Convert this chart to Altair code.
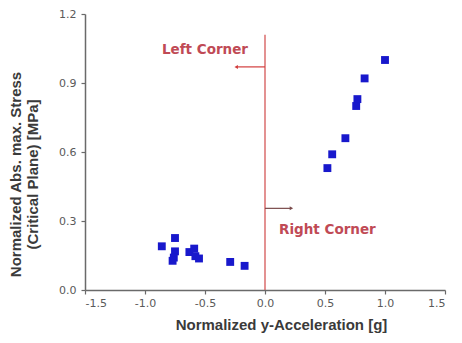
import altair as alt
import pandas as pd

# data
accel = [1.00, 0.83, 0.77, 0.76, 0.67, 0.56, 0.52,
         -0.86, -0.75, -0.75, -0.76, -0.77, -0.63, -0.59, -0.58, -0.55, -0.29, -0.17]
stress = [1.00, 0.92, 0.83, 0.80, 0.66, 0.59, 0.53,
          0.19, 0.226, 0.168, 0.141, 0.127, 0.165, 0.18, 0.147, 0.137, 0.122, 0.105]

x_ticks = [-1.5, -1.25, -1.0, -0.75, -0.5, -0.25, 0.0, 0.25, 0.5, 0.75, 1.0, 1.25, 1.5]
y_ticks = [0.0, 0.15, 0.3, 0.45, 0.6, 0.75, 0.9, 1.05, 1.2]

divider_x = [0.0]
divider_top = [1.11]
arrow_start = [0.0, 0.0]
arrow_end = [-0.24, 0.22]
arrow_y = [0.97, 0.355]
arrow_color = ["#d23c3c", "#7a4a4a"]
labels = ["Left Corner", "Right Corner"]
label_x = [-0.50, 0.52]
label_y = [1.045, 0.26]

pts = pd.DataFrame({"a": accel, "s": stress})
div = pd.DataFrame({"x": divider_x, "y2": divider_top, "y": [0.0]})
arr = pd.DataFrame({"x": arrow_start, "x2": arrow_end, "y": arrow_y, "c": arrow_color,
                    "shape": ["triangle-left", "triangle-right"]})
lab = pd.DataFrame({"t": labels, "x": label_x, "y": label_y})

xscale = alt.Scale(domain=[-1.5, 1.5], nice=False, zero=False)
yscale = alt.Scale(domain=[0, 1.2], nice=False, zero=False)

x_minor = "abs(datum.value*2 - round(datum.value*2)) > 0.01"
y_minor = "abs(datum.value/0.3 - round(datum.value/0.3)) > 0.01"

xaxis = alt.Axis(
    values=x_ticks, title="Normalized  y-Acceleration [g]",
    labelExpr=f"{x_minor} ? '' : replace(format(datum.value, '.1f'), '\u2212', '-')",
    tickSize={"condition": {"test": x_minor, "value": 2}, "value": 4},
    grid=False, domainColor="#6a6a6a", tickColor="#6a6a6a", labelColor="#5a5a5a",
    labelFont="DejaVu Sans", labelFontSize=11, labelPadding=3,
    titleFont="Liberation Sans", titleFontSize=15, titleFontWeight="bold",
    titleColor="#3a3a3a", titlePadding=9, titleX=196,
    domainWidth=1.5, tickWidth=1.2,
)
yaxis = alt.Axis(
    values=y_ticks, title=["Normalized Abs. max. Stress", "(Critical Plane) [MPa]"],
    labelExpr=f"{y_minor} ? '' : format(datum.value, '.1f')",
    tickSize={"condition": {"test": y_minor, "value": 2}, "value": 4},
    grid=False, domainColor="#6a6a6a", tickColor="#6a6a6a", labelColor="#5a5a5a",
    labelFont="DejaVu Sans", labelFontSize=11, labelPadding=5,
    titleFont="Liberation Sans", titleFontSize=15, titleFontWeight="bold",
    titleColor="#3a3a3a", titlePadding=18, titleY=160, titleLineHeight=17,
    domainWidth=1.5, tickWidth=1.2,
)

points = alt.Chart(pts).mark_square(size=62, color="#1818cc", opacity=1).encode(
    x=alt.X("a:Q", scale=xscale, axis=xaxis),
    y=alt.Y("s:Q", scale=yscale, axis=yaxis),
)

divider = alt.Chart(div).mark_rule(color="#d04848", strokeWidth=1.2).encode(
    x="x:Q", y="y:Q", y2="y2:Q"
)

arrows = alt.Chart(arr).mark_rule(strokeWidth=1.2).encode(
    x="x:Q", x2="x2:Q", y="y:Q", color=alt.Color("c:N", scale=None)
)
heads = alt.Chart(arr).mark_point(filled=True, size=16, opacity=1).encode(
    x="x2:Q", y="y:Q", color=alt.Color("c:N", scale=None),
    shape=alt.Shape("shape:N", scale=None)
)

texts = alt.Chart(lab).mark_text(color="#c04a55", font="DejaVu Sans", fontSize=13.5,
                                 fontWeight="bold").encode(
    x="x:Q", y="y:Q", text="t:N"
)

chart = alt.layer(divider, arrows, heads, points, texts).properties(
    width=360, height=276,
    autosize=alt.AutoSizeParams(type="none"),
    padding={"left": 77, "top": 6, "right": 9, "bottom": 44},
).configure_view(stroke=None)

chart.save("out.html", embed_options={"renderer": "svg", "actions": False})
